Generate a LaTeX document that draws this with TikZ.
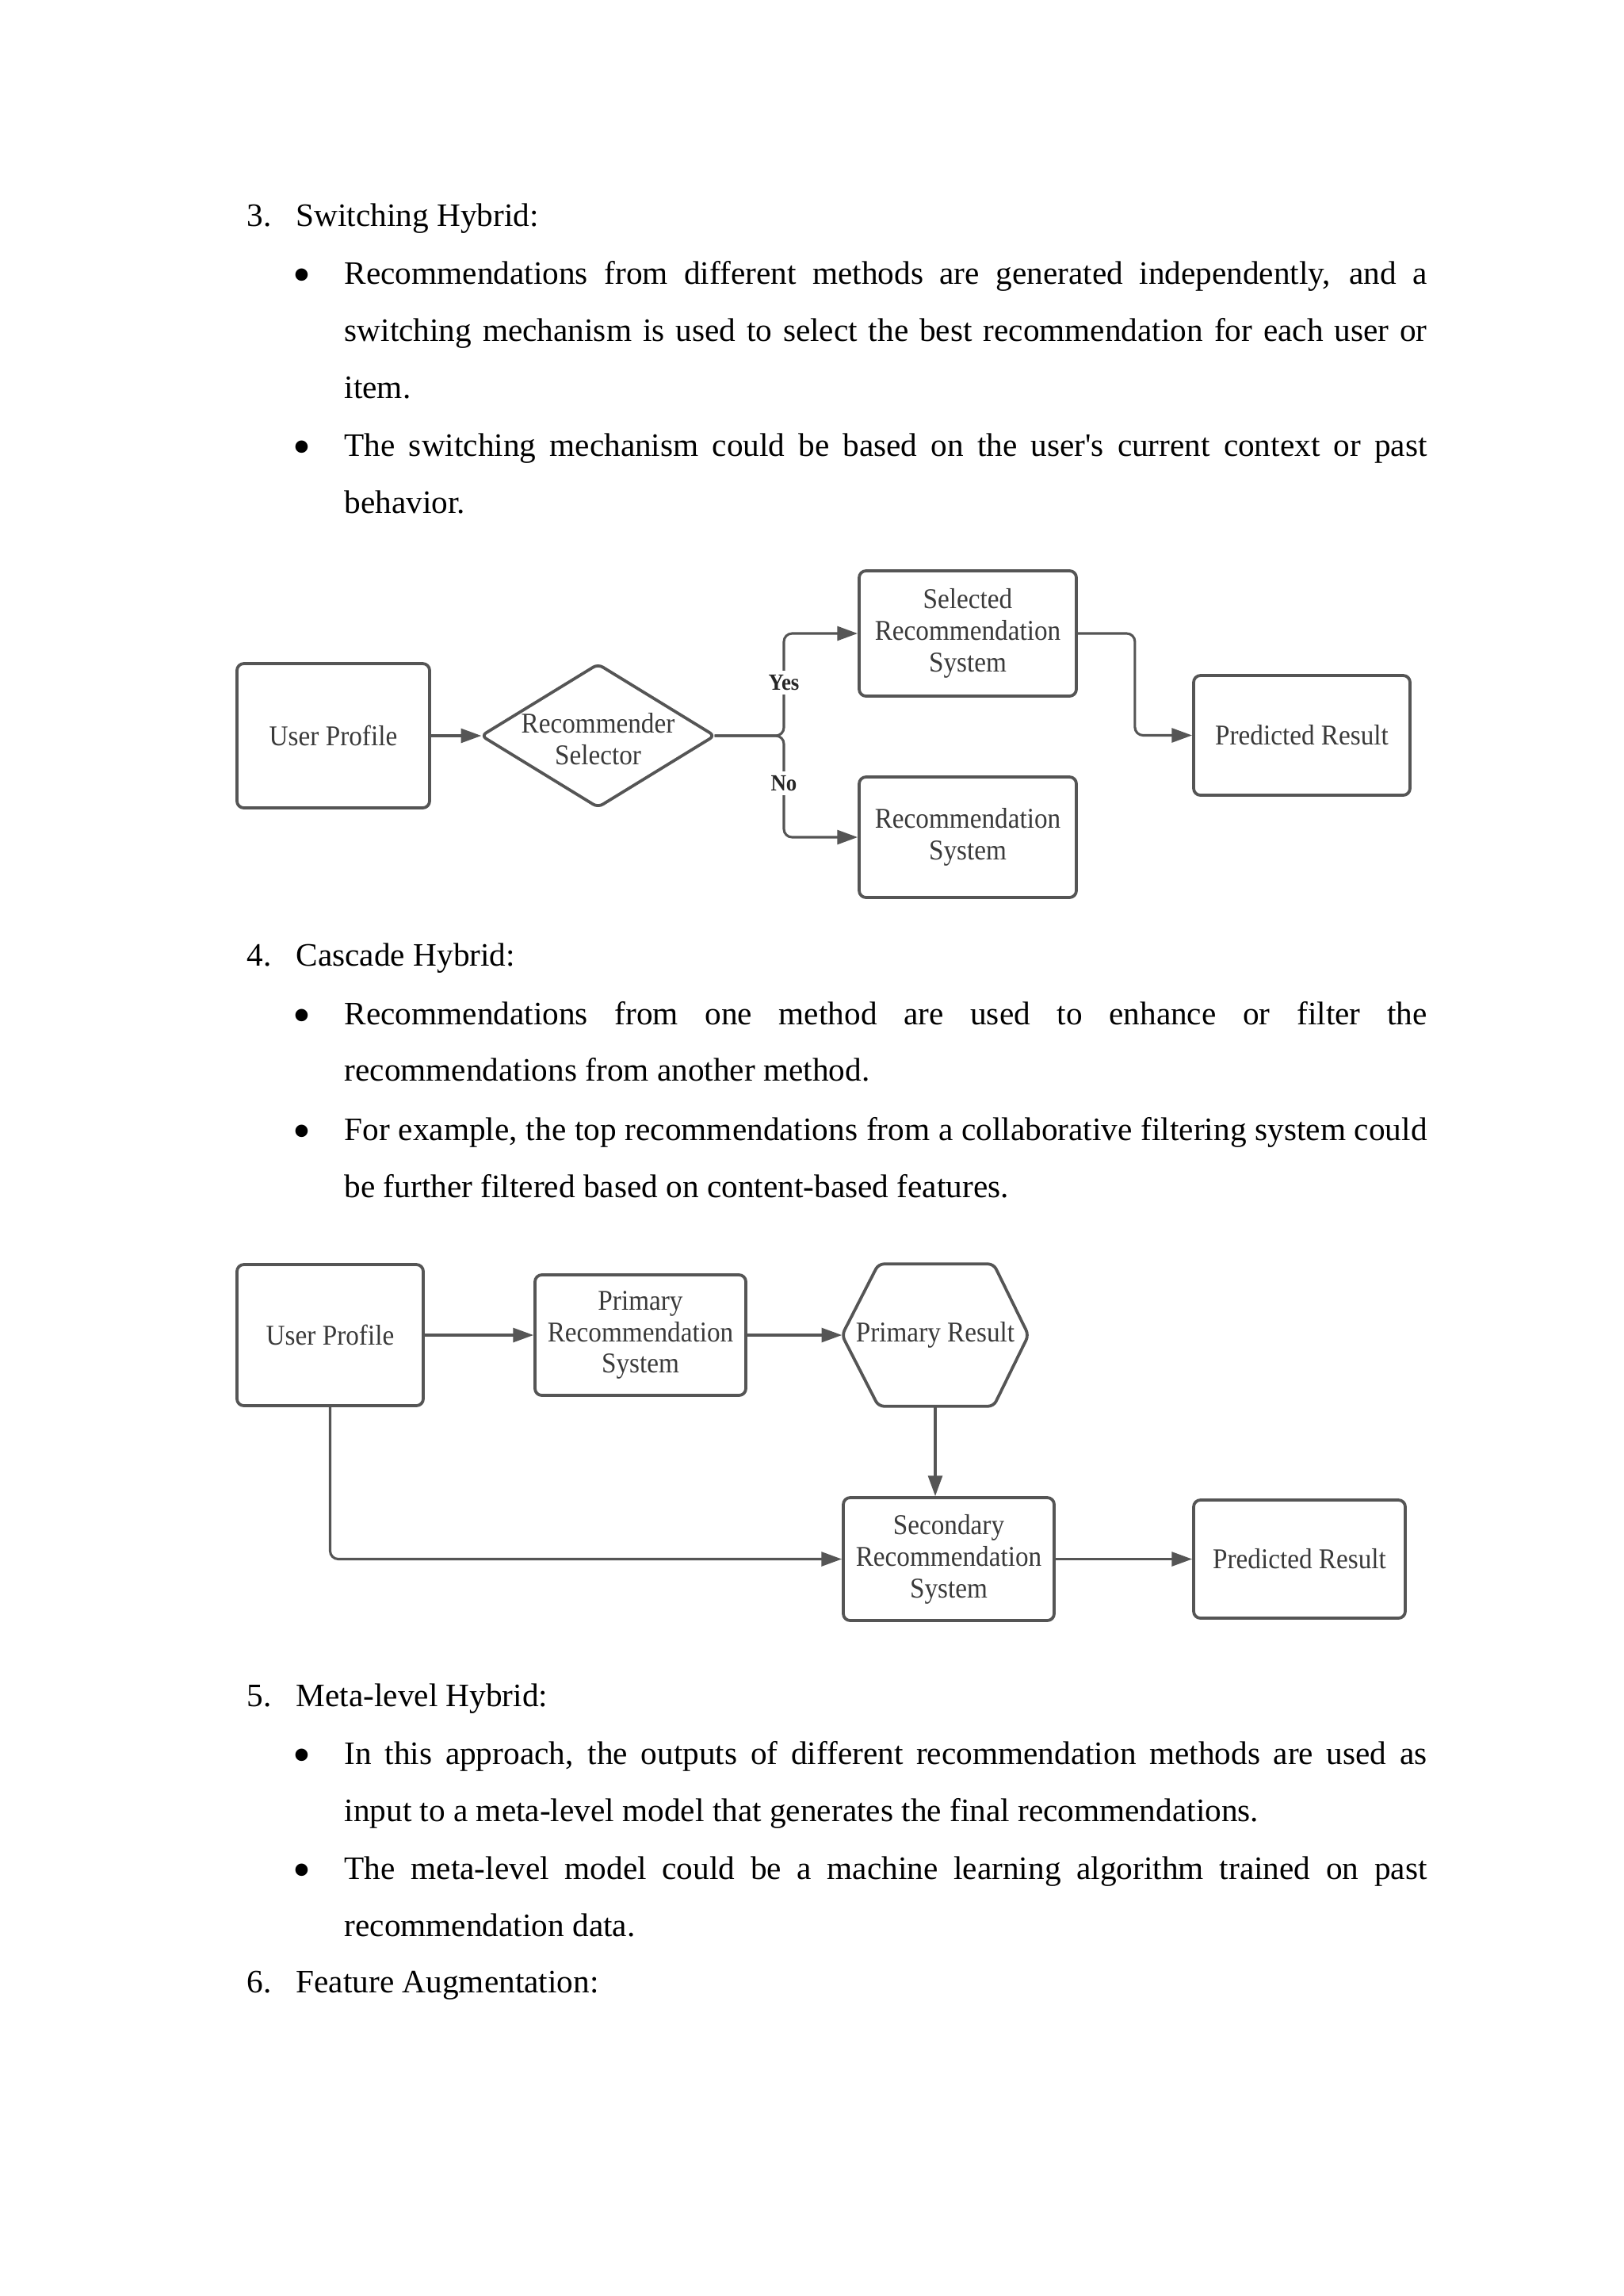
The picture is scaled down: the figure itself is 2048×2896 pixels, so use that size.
\documentclass[tikz,border=0pt]{standalone}
\usepackage{fontspec}
\setmainfont{Liberation Serif}[Ligatures=TeXOff]
\newfontfamily\dfont{Liberation Serif}[FakeStretch=0.92]
\usetikzlibrary{arrows.meta,calc}
\definecolor{lc}{HTML}{555555}
\definecolor{dtc}{HTML}{3A3A3A}
\newcommand\pxu{0.29066pt}
\newcommand\jl[1]{\makebox[397pt][s]{#1}}
\begin{document}
\begin{tikzpicture}[x=0.29066pt, y=-0.29066pt,
  body/.style={anchor=base west, inner sep=0pt, font=\fontsize{12}{14}\selectfont},
  bul/.style={anchor=center, inner sep=0pt, font=\fontsize{19}{19}\selectfont},
  box/.style={draw=lc, line width=1.1pt, rounded corners=2.5pt, align=center, inner sep=0pt,
    font=\dfont\fontsize{10.5}{11.6}\selectfont, text=dtc},
  ghost/.style={inner sep=0pt, align=center, font=\dfont\fontsize{10.5}{11.6}\selectfont, text=dtc},
  outl/.style={draw=lc, line width=1.1pt, rounded corners=2pt},
  arr/.style={draw=lc, line width=0.9pt, -{Triangle[length=7.5pt,width=5.2pt]}},
  lab/.style={fill=white, inner sep=1.5pt, font=\dfont\bfseries\fontsize{8.5}{9}\selectfont, text=black!85}]
\useasboundingbox[fill=white] (0,0) rectangle (2048,2896);

% ---------- section 3 ----------
\node[body] (n3) at (311,285) {3.};
\node[body] (h3) at (373,285) {Switching Hybrid:};
\node[bul] (b31) at (381,354) {•};
\node[body] (t31) at (434,358) {\jl{Recommendations from different methods are generated independently, and a}};
\node[body] (t32) at (434,430) {\jl{switching mechanism is used to select the best recommendation for each user or}};
\node[body] (t33) at (434,502) {item.};
\node[bul] (b32) at (381,571) {•};
\node[body] (t34) at (434,575) {\jl{The switching mechanism could be based on the user's current context or past}};
\node[body] (t35) at (434,647) {behavior.};

% ---------- diagram 1 ----------
\node[box, minimum width=243*\pxu, minimum height=182*\pxu] (up1) at (420.5,928) {User Profile};
\node[ghost, minimum width=293*\pxu, minimum height=179*\pxu] (dia) at (754.5,928) {};
\node[ghost] (diat) at (754.5,932) {Recommender\\Selector};
\draw[outl] (dia.west) -- (dia.north) -- (dia.east) -- (dia.south) -- cycle;
\node[box, minimum width=274*\pxu, minimum height=158*\pxu] (srs) at (1221,799) {Selected\\Recommendation\\System};
\node[box, minimum width=274*\pxu, minimum height=152*\pxu] (rs) at (1221,1056) {Recommendation\\System};
\node[box, minimum width=273*\pxu, minimum height=151*\pxu] (pd1) at (1642.5,927.5) {Predicted Result};
\coordinate (jn) at (989,928);
\draw[arr] (up1.east) -- (dia.west);
\draw[arr, rounded corners=3pt] (dia.east) -- (jn) |- (srs.west);
\draw[arr, rounded corners=3pt] (dia.east) -- (jn) |- (rs.west);
\draw[arr, rounded corners=3pt] (srs.east) -- ++(72,0) |- (pd1.west);
\node[lab] (yes) at (989,861) {Yes};
\node[lab] (no) at (989,988) {No};

% ---------- section 4 ----------
\node[body] (n4) at (311,1218) {4.};
\node[body] (h4) at (373,1218) {Cascade Hybrid:};
\node[bul] (b41) at (381,1288) {•};
\node[body] (t41) at (434,1292) {\jl{Recommendations from one method are used to enhance or filter the}};
\node[body] (t42) at (434,1363) {recommendations from another method.};
\node[bul] (b42) at (381,1434) {•};
\node[body] (t43) at (434,1438) {\jl{For example, the top recommendations from a collaborative filtering system could}};
\node[body] (t44) at (434,1510) {be further filtered based on content-based features.};

% ---------- diagram 2 ----------
\node[box, minimum width=235*\pxu, minimum height=178*\pxu] (up2) at (416.5,1684) {User Profile};
\node[box, minimum width=266*\pxu, minimum height=152*\pxu] (prs) at (808,1684) {Primary\\Recommendation\\System};
\node[ghost, minimum width=234*\pxu, minimum height=178*\pxu] (hex) at (1180,1684) {Primary Result};
\draw[outl] (hex.west) -- ($(hex.north west)+(46,0)$) -- ($(hex.north east)+(-44,0)$) -- (hex.east)
  -- ($(hex.south east)+(-44,0)$) -- ($(hex.south west)+(46,0)$) -- cycle;
\node[box, minimum width=266*\pxu, minimum height=155*\pxu] (sec) at (1197,1966.5) {Secondary\\Recommendation\\System};
\node[box, minimum width=267*\pxu, minimum height=149*\pxu] (pd2) at (1639.5,1966.5) {Predicted Result};
\draw[arr] (up2.east) -- (prs.west);
\draw[arr] (prs.east) -- (hex.west);
\draw[arr] (hex.south) -- (hex.south |- sec.north);
\draw[arr, rounded corners=3pt] (up2.south) |- (sec.west);
\draw[arr] (sec.east) -- (pd2.west);

% ---------- section 5 / 6 ----------
\node[body] (n5) at (311,2152) {5.};
\node[body] (h5) at (373,2152) {Meta-level Hybrid:};
\node[bul] (b51) at (381,2221) {•};
\node[body] (t51) at (434,2225) {\jl{In this approach, the outputs of different recommendation methods are used as}};
\node[body] (t52) at (434,2297) {input to a meta-level model that generates the final recommendations.};
\node[bul] (b52) at (381,2366) {•};
\node[body] (t53) at (434,2370) {\jl{The meta-level model could be a machine learning algorithm trained on past}};
\node[body] (t54) at (434,2442) {recommendation data.};
\node[body] (n6) at (311,2513) {6.};
\node[body] (h6) at (373,2513) {Feature Augmentation:};
\end{tikzpicture}
\end{document}
